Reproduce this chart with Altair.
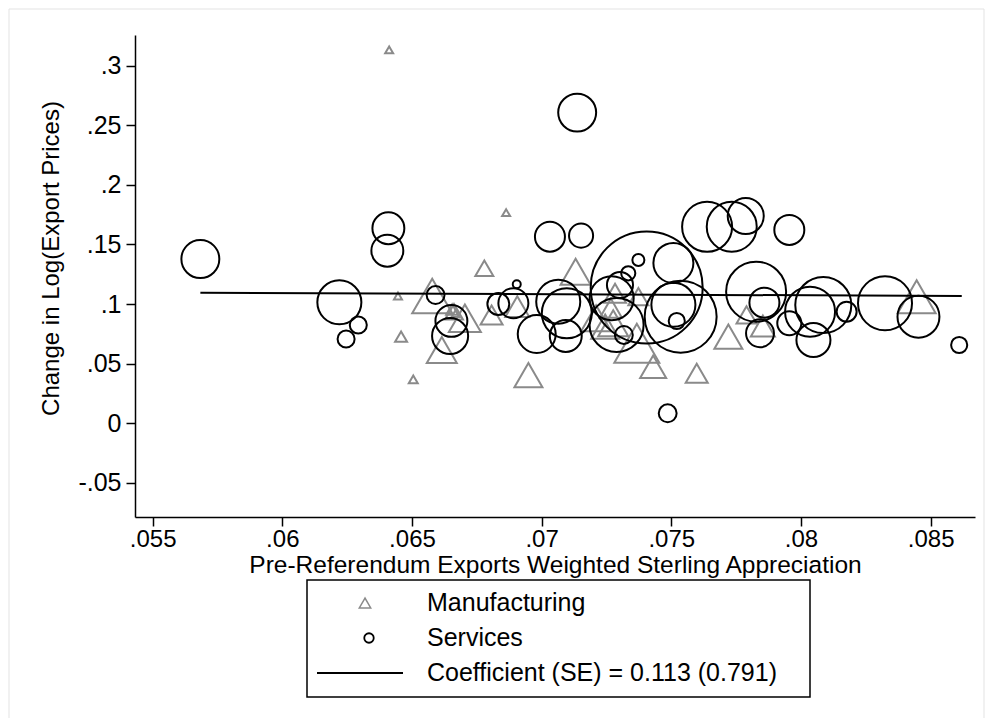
import altair as alt
import pandas as pd

# ---- data ----
svc_x = [0.05684, 0.0622, 0.06293, 0.06246, 0.06409, 0.06405, 0.06591, 0.06652, 0.06647, 0.06833,
         0.06891, 0.06904, 0.06981, 0.07032, 0.07152, 0.07137, 0.07064, 0.07097, 0.07093, 0.07405,
         0.0727, 0.07302, 0.07334, 0.07373, 0.07289, 0.07317, 0.07508, 0.07536, 0.07521, 0.07486,
         0.07638, 0.07733, 0.07787, 0.07955, 0.07827, 0.07859, 0.07842, 0.07955, 0.08035, 0.08086,
         0.08048, 0.08176, 0.08324, 0.08453, 0.0861, 0.07508]
svc_y = [0.1378, 0.1015, 0.0825, 0.0707, 0.1636, 0.1448, 0.1076, 0.0859, 0.0732, 0.1001,
         0.1007, 0.1166, 0.0749, 0.1565, 0.1574, 0.2606, 0.102, 0.0923, 0.0732, 0.1139,
         0.1049, 0.116, 0.1258, 0.137, 0.0825, 0.0741, 0.1345, 0.0894, 0.0858, 0.0084,
         0.1648, 0.1649, 0.1739, 0.1622, 0.1104, 0.1012, 0.0755, 0.0839, 0.0936, 0.0992,
         0.0699, 0.0936, 0.1007, 0.0894, 0.0657, 0.0994]
svc_w = [14.4, 19.4, 2.9, 2.9, 10.2, 10.2, 3.2, 10.2, 13.0, 4.8,
         9.0, 0.64, 14.4, 9.0, 5.8, 14.4, 19.4, 25.0, 10.2, 125.4,
         19.4, 6.8, 2.0, 1.44, 29.2, 3.2, 16.0, 51.8, 2.6, 3.2,
         25.0, 25.0, 13.0, 9.0, 36.0, 9.0, 7.8, 5.8, 25.0, 31.4,
         11.6, 4.0, 29.2, 17.6, 2.6, 19.4]

mfg_x = [0.06412, 0.06863, 0.06779, 0.06446, 0.06458, 0.06505, 0.06578, 0.06615, 0.06662, 0.06655,
         0.06668, 0.06704, 0.06807, 0.06906, 0.06949, 0.07131, 0.07283, 0.07267, 0.07373, 0.07367,
         0.0743, 0.07598, 0.0772, 0.0779, 0.07853, 0.08446, 0.07245, 0.0721, 0.07276]
mfg_y = [0.3132, 0.1767, 0.130, 0.1068, 0.0727, 0.0369, 0.1068, 0.0615, 0.0936, 0.0955,
         0.092, 0.0881, 0.0909, 0.0978, 0.0405, 0.1272, 0.109, 0.0965, 0.1062, 0.0671,
         0.0475, 0.042, 0.0727, 0.0909, 0.0816, 0.1062, 0.081, 0.0882, 0.0839]
mfg_w = [0.64, 0.64, 3.24, 0.64, 1.44, 0.81, 16.0, 9.0, 3.24, 1.44,
         0.64, 10.24, 4.84, 5.76, 7.84, 9.0, 4.84, 4.84, 4.0, 20.25,
         6.76, 4.84, 7.84, 4.0, 5.76, 14.44, 7.84, 9.0, 9.0]

fit_x = [0.05684, 0.0862]
fit_y = [0.1095, 0.1068]

x_ticks = [0.055, 0.06, 0.065, 0.07, 0.075, 0.08, 0.085]
y_ticks = [-0.05, 0, 0.05, 0.1, 0.15, 0.2, 0.25, 0.3]
legend_labels = ["Manufacturing", "Services", "Coefficient (SE) = 0.113 (0.791)"]

x_title = "Pre-Referendum Exports Weighted Sterling Appreciation"
y_title = "Change in Log(Export Prices)"

FONT = "Liberation Sans"
GREY = "#8a8a8a"

svc = pd.DataFrame({"x": svc_x, "y": svc_y, "w": svc_w})
mfg = pd.DataFrame({"x": mfg_x, "y": mfg_y, "w": mfg_w})
fit = pd.DataFrame({"x": fit_x, "y": fit_y})

label_expr = ("datum.value == 0 ? '0' : (datum.value < 0 ? '-' : '') + "
              "replace(format(abs(datum.value), '~g'), '0.', '.')")

xscale = alt.Scale(domain=[0.05432, 0.08671], nice=False, zero=False)
yscale = alt.Scale(domain=[-0.0786, 0.3257], nice=False, zero=False)
sscale = alt.Scale(type="linear", domain=[0, 100], range=[0, 10000], zero=True)

xaxis = alt.Axis(values=x_ticks, labelExpr=label_expr, title=x_title, grid=False,
                 tickSize=9, labelPadding=1, titleY=48, titleBaseline="middle",
                 labelFontSize=24, titleFontSize=24.5)
yaxis = alt.Axis(values=y_ticks, labelExpr=label_expr, title=y_title, grid=False,
                 tickSize=9, labelPadding=5, titleX=-84, titleY=223,
                 titleBaseline="middle", titleAngle=-90,
                 labelFontSize=25, titleFontSize=24)

X = alt.X("x:Q", scale=xscale, axis=xaxis)
Y = alt.Y("y:Q", scale=yscale, axis=yaxis)
S = alt.Size("w:Q", scale=sscale, legend=None)

tri = alt.Chart(mfg).mark_point(shape="triangle-up", filled=False, color=GREY,
                                strokeWidth=2, opacity=1).encode(x=X, y=Y, size=S)
circ = alt.Chart(svc).mark_point(shape="circle", filled=False, color="black",
                                 strokeWidth=2, opacity=1).encode(x=X, y=Y, size=S)
line = alt.Chart(fit).mark_line(color="black", strokeWidth=2).encode(x=X, y=Y)

one = pd.DataFrame({"k": [0]})
border = alt.Chart(one).mark_rect(fill=None, stroke="#e3e3e3", strokeWidth=1).encode(
    x=alt.value(-126), x2=alt.value(849), y=alt.value(-26), y2=alt.value(700))
lbox = alt.Chart(one).mark_rect(fill="white", stroke="black", strokeWidth=1.5).encode(
    x=alt.value(172), x2=alt.value(675), y=alt.value(545), y2=alt.value(662))
leg_tri = alt.Chart(one).mark_point(shape="triangle-up", filled=False, color=GREY,
                                    strokeWidth=1.5, size=130, opacity=1).encode(
    x=alt.value(230), y=alt.value(568))
leg_circ = alt.Chart(one).mark_point(shape="circle", filled=False, color="black",
                                     strokeWidth=1.8, size=90, opacity=1).encode(
    x=alt.value(234), y=alt.value(603))
leg_line = alt.Chart(one).mark_rule(color="black", strokeWidth=2).encode(
    x=alt.value(182), x2=alt.value(268), y=alt.value(638))
leg_text = []
for i, lab in enumerate(legend_labels):
    leg_text.append(alt.Chart(pd.DataFrame({"label": [lab]})).mark_text(
        align="left", baseline="middle", font=FONT, fontSize=25, color="black").encode(
        text="label:N", x=alt.value(292), y=alt.value(568 + 35 * i)))

chart = alt.layer(border, tri, circ, line, lbox, leg_tri, leg_circ, leg_line, *leg_text).properties(
    width=840, height=482,
    autosize=alt.AutoSizeParams(type="none"),
    padding={"left": 127, "top": 27, "right": 10, "bottom": 201},
).configure_view(stroke=None).configure_axis(
    domainColor="black", tickColor="black", labelColor="black", titleColor="black",
    labelFont=FONT, titleFont=FONT,
    titleFontWeight="normal", domainWidth=1.5, tickWidth=1.5,
)

chart.save("out.html", embed_options={"renderer": "svg", "actions": False})
